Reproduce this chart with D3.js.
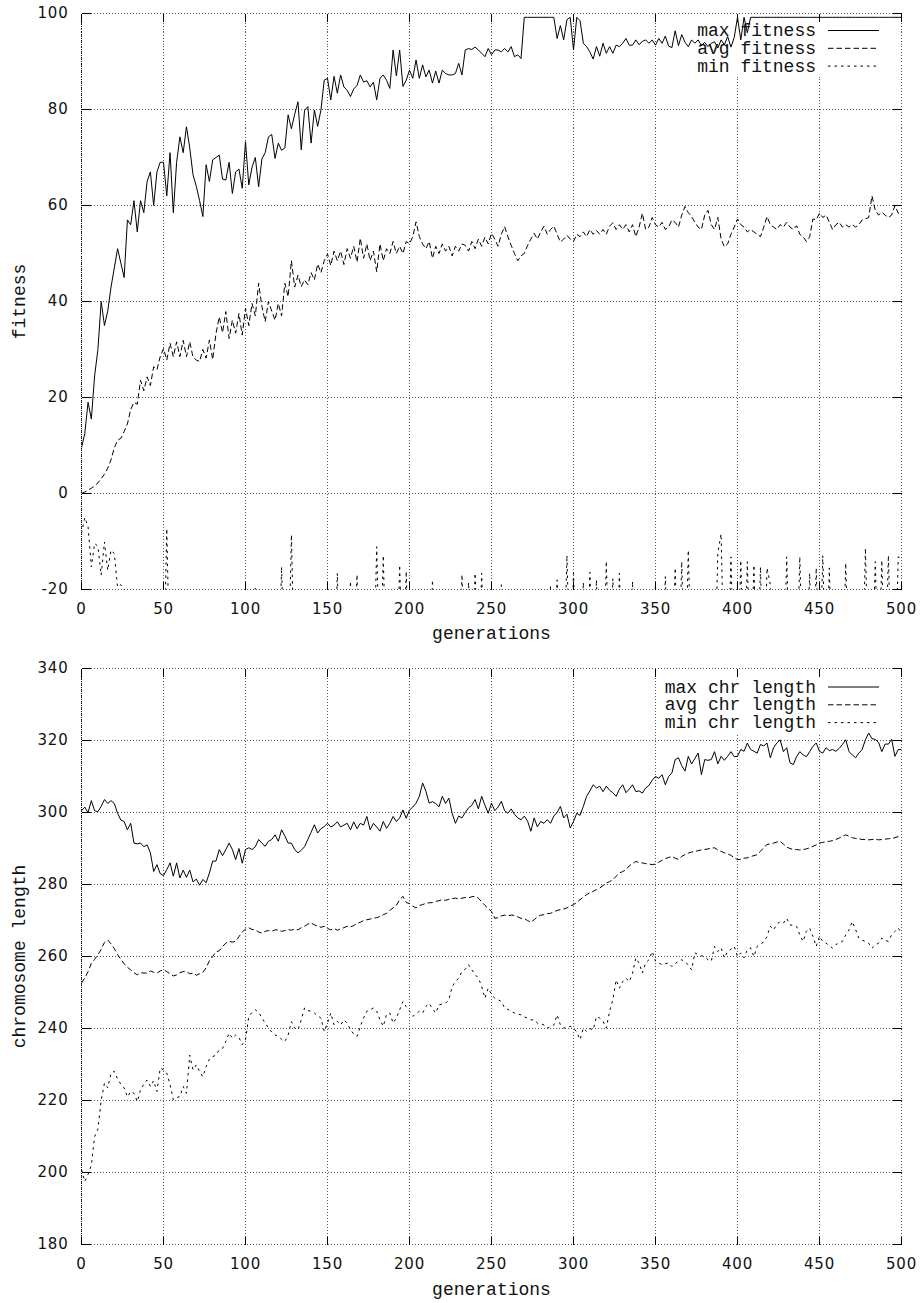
<!DOCTYPE html>
<html><head><meta charset="utf-8">
<script src="https://cdn.jsdelivr.net/npm/d3@7"></script>
<style>
body{margin:0;background:#fff}
svg{display:block;background:#fff}
</style></head>
<body>
<svg id="chart" width="921" height="1303"></svg>
<script>
// ---------- data ----------
const generations = d3.range(0, 501, 2);           // x categories: 0,2,...,500
const xTicks = [0, 50, 100, 150, 200, 250, 300, 350, 400, 450, 500];
const fitnessTicks = [-20, 0, 20, 40, 60, 80, 100];
const chrTicks = [180, 200, 220, 240, 260, 280, 300, 320, 340];
const xLabel = 'generations';
const fitnessLabel = 'fitness';
const chrLabel = 'chromosome length';
const fitnessNames = ['max fitness', 'avg fitness', 'min fitness'];
const chrNames = ['max chr length', 'avg chr length', 'min chr length'];

const maxFitness = [
9.5,12.5,19,15.5,24.5,30,40,35,38,43,47,51,48,45,57,56,61,54.5,61,58.5,65,67,60,67,69,
69,62,71,58.5,69,74.3,71,76.4,72,66.4,64,61,57.7,68.5,65,69.5,70,70.5,65.5,65.3,69,62.5,67,67.6,63.6,
73.3,64.3,68,70,63.9,69.7,71,74.3,74.8,69.8,73,71.5,72,78.9,76,79,81.6,71.6,79.8,80.6,73,79.9,76.5,79.9,86.1,
86.5,82,86.9,83.4,87.2,84.7,84,82.7,84.3,85,87.2,85.7,86,84.7,85.7,82,86.5,87.2,86.1,84.4,92.4,87,92.4,84.8,86.1,
88.2,86.5,90.3,86.5,89.3,86.8,88.2,85.5,88,85.5,88.2,87.5,87.2,87.2,87.5,89.6,87.2,92.4,92.7,92.5,93,92.4,91.7,91,92.7,
91.4,92.4,92.4,92,92.7,92,93.1,91,91.4,90.6,99.2,99.2,99.2,99.2,99.2,99.2,99.2,99.2,99.2,99.2,94.8,97.5,94.5,98.7,99.2,
92.4,99.2,98.5,93.8,93.1,92,90.5,93.1,91.1,93.8,91.7,93.1,91.7,93.4,93.1,93.8,94.8,93.4,93.4,94.5,93.5,94.2,94.5,93.8,94.5,
93.4,94.8,93.8,95.3,93.2,92.9,96.4,93.3,95.6,94,93.1,94.5,93.8,94.5,93.3,94,93.1,93.8,94.1,92.8,94.5,93.5,95.2,93,95,
99.2,94.5,99.2,96,99.2,99.2,99.2,99.2,99.2,99.2,99.2,99.2,99.2,99.2,99.2,99.2,99.2,99.2,99.2,99.2,99.2,99.2,99.2,99.2,99.2,
99.2,99.2,99.2,99.2,99.2,99.2,99.2,99.2,99.2,99.2,99.2,99.2,99.2,99.2,99.2,99.2,99.2,99.2,99.2,99.2,99.2,99.2,99.2,99.2,99.2,
99.2];

const avgFitness = [
0,0.3,0.7,1.1,1.6,2.2,3.1,4,5.3,7,9.5,11.1,11.5,12.9,14.5,17.5,19,18.6,23.6,21.4,24.3,22.5,26.4,25.8,28.5,
30.2,27.8,31.3,28.5,31.6,28.5,31.9,28.5,31.6,28.4,27.8,27.5,30,28.2,32,27.9,33.3,36.8,33.5,37.9,32.3,36.1,33.4,37.5,33,
38.6,35,39.6,37,43.8,39,35.8,40,38,36.1,39.6,37,43.8,41,48.5,43,45.5,43.1,44.5,43.5,46,44.5,47.8,46,48.5,
49.9,47.5,50.5,48.5,50.5,47.7,51,49,51.5,48.2,53.2,49,52,48.5,50.5,46.2,52,48.5,51,50,52.5,50,51.5,50,52.5,
52,53.5,56.6,53.5,52,51,52.5,49,51.5,50,52,50.5,51.5,49.5,51.5,50.5,52,51.7,50.5,52.5,51,53,51.5,53.4,52,
54.2,53,51.5,54,55.6,53.5,51.7,50,48.5,49.5,50,51.7,53,54.2,53,54.5,55.7,54,55,55.7,54,52.4,53,53.8,53,
52.5,54,53.5,54.5,53.5,55,54,54.8,54,55,54,55.7,56.4,55,56,55,56,54.5,56,53.5,55.5,58.4,55,55.5,57.5,
56,55.5,56.5,55,55.5,57,56.5,55.5,58,59.8,58.5,57.7,56.5,55.5,55,58,59,56,55,57.5,53,51.4,52,54,55.5,
57.2,56,55.5,54.5,55,54.5,54,53.5,55.5,57.7,56,55.5,55,56,55.5,56.5,55.5,55,55.8,54,53.5,52.5,53.5,57.2,57,
58.4,57.5,58,56.5,55,56,56.5,55.5,56,55.5,56,55.5,56,57,57.2,57.5,62,59,58,58.6,58,57.5,58,60,58.4,
58.6];

const minFitness = [
-8.3,-5,-6.9,-15.3,-10.4,-11,-17,-10.1,-16,-11.8,-12.5,-19.5,-19,-19.8,-40,-40,-40,-40,-40,-40,-40,-40,-40,-40,-40,
-40,-7.3,-40,-40,-40,-40,-40,-40,-40,-40,-40,-40,-40,-40,-40,-40,-40,-40,-40,-40,-40,-40,-40,-40,-40,
-40,-40,-40,-19.5,-40,-40,-40,-40,-40,-40,-40,-15.3,-40,-40,-8.6,-40,-40,-40,-40,-40,-40,-40,-40,-40,-40,
-40,-40,-40,-16.6,-40,-40,-40,-18.3,-40,-16.9,-40,-40,-40,-40,-40,-11.1,-40,-12.9,-40,-40,-40,-40,-14.9,-40,-16.2,
-40,-40,-40,-40,-40,-40,-40,-18,-40,-40,-40,-40,-40,-40,-40,-40,-16.9,-40,-18.5,-40,-16.6,-40,-16.6,-40,-40,
-40,-40,-40,-19,-40,-40,-40,-40,-40,-40,-40,-40,-40,-40,-40,-40,-40,-40,-19.2,-40,-18,-40,-40,-12.9,-40,
-16.6,-40,-40,-18.5,-40,-16.4,-40,-18,-40,-40,-14.1,-40,-17.7,-40,-16.6,-40,-40,-40,-18.3,-40,-40,-40,-40,-40,-40,
-19,-40,-40,-17.3,-40,-40,-15.5,-40,-14.2,-40,-11.8,-40,-40,-40,-40,-40,-40,-40,-40,-12.4,-8.4,-40,-40,-13.2,-40,
-40,-13.9,-40,-14.2,-40,-14.9,-40,-15.3,-40,-15.5,-19,-40,-40,-40,-40,-13.2,-40,-40,-40,-13.2,-40,-40,-16.6,-40,-15.5,
-40,-12.9,-40,-15.5,-40,-40,-40,-40,-14.5,-40,-40,-40,-40,-40,-11.4,-40,-40,-14.2,-40,-13.9,-40,-12.9,-40,-40,-13.2,
-13.5];

const maxChr = [
300.5,301.5,300,303.3,300.5,300.2,301.7,303.6,302.5,303.3,302.5,299.8,297.9,297.5,295.2,297,291.5,291.3,291.5,290.5,291,288.8,283.6,285.5,283,
282.5,284.1,286,282.3,286,281.8,284,282,284,280.7,281.5,279.8,281.4,280.5,283.2,286.5,286.5,289.7,288,289.7,291.5,289.7,286.9,290,285.9,
289.7,290.2,289.7,290.5,292.5,291.5,290.6,292,292.5,293.8,292,295.2,293.5,291.5,291.5,289.7,288.8,289.5,290.5,292.5,294.5,296.6,294.3,295.5,296.1,
297,296,296.5,297.4,296,296.5,297,295.2,297.4,295.5,297,296.5,298.9,295.2,297,296,294.8,297.5,295.6,297,298.9,297.5,298.5,300.7,298.4,
300.7,301.5,302.6,304.5,308.2,305.9,302.6,303,302.5,301.6,304.5,302.5,304,299.8,297,299,298.5,300,301.3,302,303.6,301,304.5,302,299.8,
302.6,300.5,301.5,303.1,300.5,299.8,301,299.5,298.5,298,299,297.6,294.8,298.5,296,297.5,297,298,297,299,300,301.7,298.5,299.5,295.7,
297.5,299.8,299.2,301.7,304.5,306,307.7,306.8,307.3,305.8,307.3,306.2,305.5,304.5,306.5,307.7,305.5,306.5,307.7,305.8,306,305.4,306.8,307.5,309,
310,309.5,310.5,307.7,310,311,314.7,315.2,313,311.5,315.6,313.5,315,316.5,310.5,314.7,314.5,314.7,316.9,313.5,315.6,314.5,315.6,316.9,315.5,
315.6,317.5,317,319.3,317.5,317,316.5,318.9,318.5,319.3,315.2,318,319.3,320.2,316.9,318,313.8,313.3,315.5,316.9,316,315.5,316.9,318.4,319.3,
317,316.5,318,317.2,317.5,317,317.8,318.9,320.2,316.9,316,315.2,316.5,317.5,320.2,322.1,320.5,320.3,319.5,316.9,319,319,320.3,315.6,317.5,
317.5];

const avgChr = [
252.6,254,255.8,258.1,259.2,260.5,262,263.9,264.6,263.5,262.2,260.5,259.2,258,257,256.3,255.5,254.9,255.5,255.4,255.4,256,255.6,255.4,256,
256.3,255.8,255.2,254.6,254.9,255.5,255.8,255.8,255.2,255.4,254.8,255.2,255.6,256.9,258.8,260,261.3,261.6,262.8,263.7,264.2,264,264.2,265.5,266.8,
267.6,268,267.5,267.4,266.8,266.5,267,267.2,267,267.4,267.4,267,267.2,267.5,267.3,267.6,267.4,268,268.4,269,269.3,268.8,268.4,268.1,268.4,
267.8,267.4,267.8,267.3,267.7,268,268.4,268.2,268.6,269.2,269.5,270,270.2,270.4,270.6,270.8,271.1,271.6,272,272.8,273.5,274.2,275.8,276.7,275,
274.7,274,273.5,274.2,274.4,274.8,274.9,275,275.3,275.5,275.8,275.6,275.9,276.1,276.2,276,276.2,276.4,276.3,276.6,276.7,276.2,275.2,274.2,273.3,
272.5,270.6,270.8,271.3,271.5,271.3,271.5,271.4,271,270.6,270.5,270,269.5,270.2,271,271.5,271.6,271.9,272,272.4,272.8,273,273.2,273.5,274,
274.4,275,275.8,276.5,277.2,277.7,278.1,278.6,279,279.7,280.4,280.8,281.3,282.3,283.2,283.6,284.1,285.2,285.8,286.4,286.1,286,285.8,285.7,285.5,
285.7,286.2,286.7,287.2,287.5,287.8,287.3,287,287.8,288.3,288.7,289,289.2,289.4,289.6,289.7,289.9,290.1,290.2,289.6,289.2,288.8,288.5,288.1,287.4,
286.9,287,287.3,287.4,287.8,288,288.3,289.2,290.3,291.1,291.3,291.5,291.8,292,291.2,290.4,290,289.7,289.7,289.6,289.7,289.9,290.2,290.6,291,
291.5,291.7,291.9,292,292.2,292.5,292.9,293.4,293.8,293.4,293,292.8,292.7,292.5,292.5,292.4,292.5,292.6,292.4,292.5,292.6,292.7,292.8,293,293.3,
293.4];

const minChr = [
200.8,197.5,199.5,202,210,212,220,224.8,223.5,227.6,228.1,226,224.5,223.5,221,222.5,222,219.7,223,224.5,225.7,223.9,225.5,222.5,229,
228.5,227.6,224.4,220.2,220.8,221.1,223.9,222,232.6,228.5,229.9,228.1,226.6,229.4,231.5,232.2,232.6,234.1,234.5,236.4,238.7,237.3,238.2,237.5,235.5,
236.9,243.3,244.5,245.2,244.5,243,241.5,240.1,239,238.2,237.8,237,236.4,238.2,241.9,240.1,239.6,242.4,245.7,245,244.8,244.3,243.5,242.9,239.2,
241.5,244.3,241,242,241,242.4,241.5,239.6,238.5,237.8,240.6,242.9,244.8,245.2,245.7,244.8,242.4,240.6,243.9,244.3,241.5,242.9,245.2,247.5,246.1,
244.8,243.4,244,244.8,244.3,246.1,247,245.5,244.3,246.6,246.8,247,248,251.6,253,254,255.8,256.5,257.7,256.3,255,254,251.7,248.4,251.2,
249.5,248.4,248,247.5,245.7,245.3,244.8,244.3,244,243.8,243.2,242.9,242.4,242.4,241.5,241.3,241,240.1,240.5,241,243.8,241,240.1,240.4,240.6,
240.1,239,236.9,240.1,239.2,240,239.6,243.3,242.9,242,240.1,244.8,248,253.5,251.2,253,254,253,255.4,259.6,258.2,255.4,258.2,259.1,261.4,
258.7,258.2,257.7,258,258.2,257.2,258,258.7,259.1,258.5,257.7,256.3,261,260.5,260.2,260,259.1,258.7,262.8,261.4,262.4,259.6,261.4,262,262.8,
260,261,259.6,261.9,262.4,260,262.8,263.5,264,265.6,268.4,267.4,269,269.7,269.3,270.6,268.8,268.6,268.4,266,264.2,267,267.9,265.6,262.8,
265.6,264.2,263.7,263,262.3,263.3,263.8,264.2,266,267.4,269.7,267.5,265.1,264.5,264.2,263.7,262.3,263.2,263.7,265.1,264.5,264.2,266,267,267.9,
266.5];

// ---------- drawing ----------
const svg = d3.select('#chart');
const MONO = "'Liberation Mono', 'Courier New', monospace";
const SANS = "'DejaVu Sans', sans-serif";
const dashes = [null, '5.5,3', '2.5,4'];

const x = d3.scaleLinear().domain([0, 500]).range([81.5, 901.5]);

const panels = [
  { id: 'fit', top: 13.5, bottom: 589.5, domain: [-20, 100], ticks: fitnessTicks,
    yLabel: fitnessLabel, names: fitnessNames, values: [maxFitness, avgFitness, minFitness],
    legendBase: 36, xLabelY: 639 },
  { id: 'chr', top: 668.5, bottom: 1244.5, domain: [180, 340], ticks: chrTicks,
    yLabel: chrLabel, names: chrNames, values: [maxChr, avgChr, minChr],
    legendBase: 692.5, xLabelY: 1295 }
];

panels.forEach(p => {
  const y = d3.scaleLinear().domain(p.domain).range([p.bottom, p.top]);
  const x0 = x.range()[0], x1 = x.range()[1];
  const g = svg.append('g');

  // grid
  const grid = g.append('g').attr('shape-rendering', 'crispEdges')
    .attr('stroke', '#555').attr('stroke-width', 1).attr('stroke-dasharray', '1,2');
  grid.selectAll('line.v').data(xTicks).join('line').attr('class', 'v')
    .attr('x1', d => x(d)).attr('x2', d => x(d)).attr('y1', p.top).attr('y2', p.bottom);
  grid.selectAll('line.h').data(p.ticks).join('line').attr('class', 'h')
    .attr('x1', x0).attr('x2', x1).attr('y1', d => y(d)).attr('y2', d => y(d));

  // legend background (hides grid)
  const legendBg = g.append('g');

  // left border denser
  g.append('line').attr('x1', x0).attr('x2', x0).attr('y1', p.top).attr('y2', p.bottom)
    .attr('stroke', '#000').attr('stroke-dasharray', '1,1').attr('shape-rendering', 'crispEdges');

  // axes
  const styleAxis = sel => {
    sel.attr('shape-rendering', 'crispEdges');
    sel.select('.domain').remove();
    sel.selectAll('text').attr('font-family', SANS).attr('font-size', 15)
      .attr('letter-spacing', '0.8px').attr('fill', '#111');
  };
  g.append('g').attr('transform', `translate(${x0},0)`)
    .call(d3.axisLeft(y).tickValues(p.ticks).tickSize(-9).tickPadding(13).offset(0).tickFormat(d3.format('d')))
    .call(styleAxis);
  g.append('g').attr('transform', `translate(${x1},0)`)
    .call(d3.axisRight(y).tickValues(p.ticks).tickSize(-9).offset(0).tickFormat(''))
    .call(styleAxis);
  g.append('g').attr('transform', `translate(0,${p.bottom})`)
    .call(d3.axisBottom(x).tickValues(xTicks).tickSize(-8).tickPadding(13.5).offset(0).tickFormat(d3.format('d')))
    .call(styleAxis);
  g.append('g').attr('transform', `translate(0,${p.top})`)
    .call(d3.axisTop(x).tickValues(xTicks).tickSize(-8).offset(0).tickFormat(''))
    .call(styleAxis);
  g.selectAll('text').filter(function(){ return this.textContent.startsWith('\u2212'); })
    .text(function(){ return '-' + this.textContent.slice(1); });

  // axis titles
  g.append('text').attr('x', (x0 + x1) / 2).attr('y', p.xLabelY)
    .attr('text-anchor', 'middle').attr('font-family', MONO).attr('font-size', 18)
    .attr('fill', '#111').text(xLabel);
  g.append('text').attr('transform', `translate(25,${(p.top + p.bottom) / 2}) rotate(-90)`)
    .attr('text-anchor', 'middle').attr('font-family', MONO).attr('font-size', 18)
    .attr('fill', '#111').text(p.yLabel);

  // legend
  const lg = g.append('g');
  const rowH = 17.8;
  p.names.forEach((name, i) => {
    const by = p.legendBase + i * rowH;
    lg.append('text').attr('x', 816).attr('y', by).attr('text-anchor', 'end')
      .attr('font-family', MONO).attr('font-size', 18).attr('fill', '#111').text(name);
    lg.append('line').attr('x1', 828).attr('x2', 879).attr('y1', by - 5.5).attr('y2', by - 5.5)
      .attr('stroke', '#000').attr('stroke-width', 1)
      .attr('stroke-dasharray', dashes[i]);
  });
  const bb = lg.node().getBBox();
  legendBg.append('rect').attr('x', bb.x - 6).attr('y', p.legendBase - 15)
    .attr('width', 886 - (bb.x - 6)).attr('height', 2 * rowH + 20).attr('fill', '#fff');

  // clip + data lines
  const clipId = 'clip-' + p.id;
  svg.append('clipPath').attr('id', clipId).append('rect')
    .attr('x', x0).attr('y', p.top).attr('width', x1 - x0).attr('height', p.bottom - p.top);
  const line = d3.line().x((d, i) => x(generations[i])).y(d => y(d));
  const lines = g.append('g').attr('clip-path', `url(#${clipId})`);
  p.values.forEach((vals, i) => {
    lines.append('path').datum(vals).attr('d', line)
      .attr('fill', 'none').attr('stroke', '#000').attr('stroke-width', 1)
      .attr('stroke-linejoin', 'miter').attr('stroke-dasharray', dashes[i]);
  });
});
</script>
</body></html>
